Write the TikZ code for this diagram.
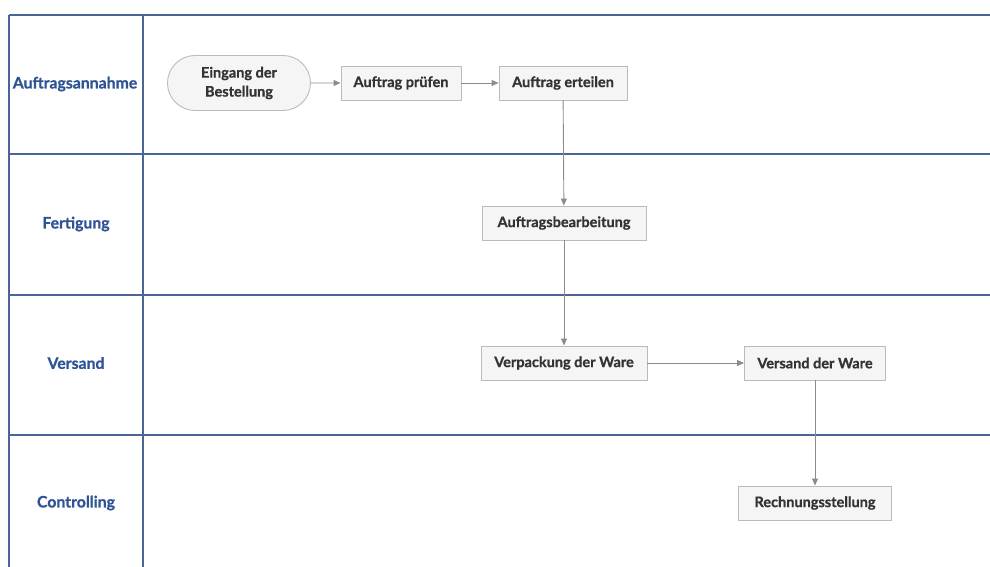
\documentclass[tikz,border=0pt]{standalone}
\usepackage{fontspec}
\setmainfont{Lato}[BoldFeatures={FakeBold=0.8}]
\usetikzlibrary{arrows.meta,shapes.misc}
\definecolor{lanec}{HTML}{4A6596}
\definecolor{lanetxt}{HTML}{2F5496}
\definecolor{boxfill}{HTML}{F5F5F5}
\definecolor{boxdraw}{HTML}{BBBBBB}
\definecolor{arrc}{HTML}{8C8C8C}
\definecolor{txt}{HTML}{333333}
\tikzset{
  laneline/.style={draw=lanec, line width=2pt},
  lanelabel/.style={text=lanetxt, font=\fontsize{15.8}{18}\selectfont\bfseries},
  procbox/.style={draw=boxdraw, fill=boxfill, line width=0.9pt, text=txt,
    font=\fontsize{14.5}{19}\selectfont\bfseries, minimum height=34pt, inner xsep=6pt},
  startbox/.style={procbox, rounded rectangle, align=center, minimum height=55pt, minimum width=155pt},
  flow/.style={draw=arrc, line width=0.9pt, -{Triangle[length=7pt,width=6pt]}}
}
\begin{document}
\begin{tikzpicture}[x=1pt,y=-1pt]
\useasboundingbox[fill=white] (0,0) rectangle (990,567);
% lanes
\draw[laneline] (9,15) -- (990,15);
\draw[laneline] (9,154) -- (990,154);
\draw[laneline] (9,295) -- (990,295);
\draw[laneline] (9,435) -- (990,435);
\draw[laneline] (9,15) -- (9,567);
\draw[laneline] (143,15) -- (143,567);
\node[lanelabel] (l1) at (75,84) {Auftragsannahme};
\node[lanelabel] (l2) at (76,224) {Fertigung};
\node[lanelabel] (l3) at (76,363) {Versand};
\node[lanelabel] (l4) at (76,503) {Controlling};
% nodes
\node[startbox] (n1) at (239,83) {Eingang der\\Bestellung};
\node[procbox, minimum width=120pt] (n2) at (401,83) {Auftrag prüfen};
\node[procbox, minimum width=128pt] (n3) at (563,83) {Auftrag erteilen};
\node[procbox, minimum width=164pt] (n4) at (564,223) {Auftragsbearbeitung};
\node[procbox, minimum width=166pt] (n5) at (564,363) {Verpackung der Ware};
\node[procbox, minimum width=141pt] (n6) at (815,363) {Versand der Ware};
\node[procbox, minimum width=153pt] (n7) at (815,503) {Rechnungsstellung};
% connectors
\draw[flow] (n1) -- (n2);
\draw[flow] (n2) -- (n3);
\draw[flow] (n3) -- (n4);
\draw[flow] (n4) -- (n5);
\draw[flow] (n5) -- (n6);
\draw[flow] (n6) -- (n7);
\end{tikzpicture}
\end{document}
